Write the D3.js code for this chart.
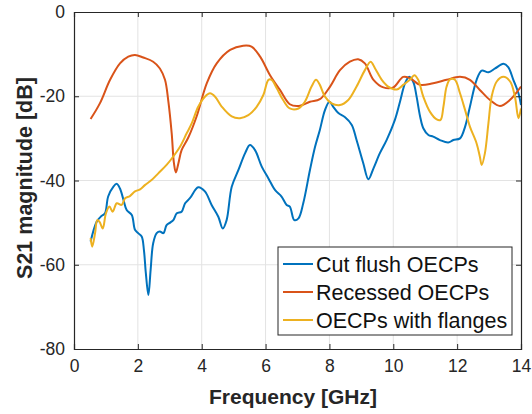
<!DOCTYPE html>
<html>
<head>
<meta charset="utf-8">
<script src="https://cdn.jsdelivr.net/npm/d3@7/dist/d3.min.js"></script>
<style>
  html, body { margin: 0; padding: 0; background: #fff; }
  svg { display: block; font-family: "Liberation Sans", Arial, Helvetica, sans-serif; }
</style>
</head>
<body>
<svg id="chart" width="532" height="414"></svg>
<script>
// Measured transmission |S21| for three OECP termination styles
const cutFlushFreq = [0.52,0.71,0.85,0.97,1.07,1.23,1.34,1.44,1.55,1.65,1.81,1.91,2.01,2.12,2.19,2.25,2.33,2.40,2.48,2.59,2.69,2.80,2.90,3.01,3.11,3.22,3.37,3.48,3.63,3.89,4.10,4.31,4.52,4.66,4.78,4.94,5.15,5.36,5.51,5.67,5.88,6.09,6.30,6.50,6.66,6.76,6.90,7.03,7.18,7.39,7.55,7.70,7.86,8.00,8.12,8.28,8.49,8.70,8.85,9.06,9.22,9.38,9.58,9.79,10.05,10.21,10.37,10.50,10.63,10.73,10.84,10.94,11.10,11.25,11.46,11.72,11.88,12.09,12.25,12.40,12.61,12.77,12.98,13.19,13.45,13.60,13.76,13.92,14.0];
const cutFlushDb = [-54.5,-49.8,-48.5,-47.8,-43.8,-41.5,-40.8,-41.9,-44.6,-47.0,-48.2,-51.7,-52.5,-53.3,-56.5,-62.0,-67.2,-61.2,-54.9,-52.5,-52.1,-52.5,-50.6,-50.0,-49.4,-47.8,-47.4,-45.4,-44.2,-41.6,-42.6,-45.8,-48.6,-51.4,-49.4,-41.5,-37.5,-33.5,-31.6,-32.8,-36.7,-39.5,-42.3,-43.8,-45.8,-46.2,-49.4,-49.0,-45.4,-37.5,-32.0,-28.0,-23.3,-21.3,-22.5,-24.0,-25.0,-26.8,-30.4,-35.9,-39.7,-37.1,-33.5,-30.4,-25.6,-21.3,-16.9,-15.4,-16.7,-20.1,-24.8,-27.6,-29.2,-29.6,-30.4,-31.0,-30.4,-30.0,-27.2,-22.5,-16.1,-13.9,-14.3,-13.4,-12.3,-13.1,-16.1,-19.3,-22.1];

const recessedFreq = [0.52,0.81,1.13,1.44,1.70,1.91,2.17,2.48,2.69,2.85,2.95,3.06,3.13,3.19,3.27,3.37,3.58,3.84,4.16,4.47,4.89,5.30,5.56,5.83,6.14,6.45,6.76,7.05,7.39,7.70,8.02,8.33,8.64,8.90,9.11,9.38,9.69,10.0,10.31,10.52,10.84,11.25,11.67,12.09,12.40,12.71,13.03,13.34,13.65,14.0];
const recessedDb = [-25.4,-21.7,-16.1,-12.2,-10.6,-10.2,-10.8,-11.8,-13.4,-16.1,-20.9,-28.8,-35.9,-38.1,-35.9,-32.8,-29.8,-24.8,-16.9,-12.2,-9.0,-8.0,-8.2,-10.6,-15.0,-18.5,-21.9,-22.3,-21.3,-20.7,-17.7,-13.8,-11.8,-11.2,-12.2,-16.1,-17.9,-17.9,-15.4,-15.7,-17.3,-16.9,-16.1,-15.4,-16.1,-18.5,-20.9,-22.3,-20.9,-17.7];

const flangeFreq = [0.52,0.57,0.66,0.73,0.80,0.90,1.00,1.11,1.21,1.34,1.49,1.60,1.75,1.91,2.07,2.22,2.43,2.64,2.90,3.11,3.32,3.53,3.69,3.89,4.10,4.26,4.42,4.63,4.94,5.20,5.46,5.72,5.93,6.09,6.19,6.35,6.55,6.76,7.03,7.23,7.44,7.58,7.70,7.86,8.07,8.33,8.59,8.85,9.11,9.29,9.43,9.64,9.84,10.11,10.31,10.52,10.66,10.78,10.94,11.15,11.36,11.48,11.57,11.67,11.78,11.93,12.09,12.25,12.40,12.61,12.71,12.77,12.87,12.98,13.08,13.24,13.45,13.66,13.81,13.92,14.0];
const flangeDb = [-53.7,-55.7,-52.5,-49.4,-49.8,-51.4,-47.8,-46.2,-47.4,-45.4,-45.8,-44.2,-43.7,-42.6,-42.1,-41.1,-39.9,-38.3,-36.3,-34.3,-32.0,-28.8,-26.4,-22.5,-20.1,-19.3,-20.1,-22.5,-24.8,-25.2,-24.5,-22.5,-19.7,-16.1,-16.1,-18.1,-20.9,-22.9,-22.9,-21.3,-17.7,-16.1,-17.3,-20.1,-21.7,-22.1,-20.9,-17.7,-13.8,-11.8,-13.4,-16.1,-17.7,-18.4,-17.3,-16.1,-15.0,-16.1,-20.1,-23.7,-25.5,-25.6,-22.5,-17.7,-16.0,-16.1,-19.3,-23.3,-27.2,-31.2,-34.3,-36.3,-33.5,-26.4,-20.1,-16.5,-15.4,-16.5,-20.1,-25.2,-22.9];

const seriesNames = ["Cut flush OECPs", "Recessed OECPs", "OECPs with flanges"];
const seriesColors = ["#0072BD", "#D95319", "#EDB120"];
const xTicks = [0, 2, 4, 6, 8, 10, 12, 14];
const yTicks = [-80, -60, -40, -20, 0];
const xLabel = "Frequency [GHz]";
const yLabel = "S21 magnitude [dB]";

const series = [
  { name: seriesNames[0], color: seriesColors[0], pts: cutFlushFreq.map((f, i) => [f, cutFlushDb[i]]) },
  { name: seriesNames[1], color: seriesColors[1], pts: recessedFreq.map((f, i) => [f, recessedDb[i]]) },
  { name: seriesNames[2], color: seriesColors[2], pts: flangeFreq.map((f, i) => [f, flangeDb[i]]) }
];

const svg = d3.select("#chart");
const plot = { left: 74, right: 521, top: 12, bottom: 349 };

const x = d3.scaleLinear().domain([0, 14]).range([plot.left, plot.right]);
const y = d3.scaleLinear().domain([-80, 0]).range([plot.bottom, plot.top]);

const axisColor = "#262626";
const gridColor = "#e3e3e3";

// grid
const grid = svg.append("g");
grid.selectAll("line.gx").data(xTicks.slice(1, -1)).enter().append("line")
  .attr("x1", d => x(d)).attr("x2", d => x(d))
  .attr("y1", plot.top).attr("y2", plot.bottom)
  .attr("stroke", gridColor).attr("stroke-width", 1);
grid.selectAll("line.gy").data(yTicks.slice(1, -1)).enter().append("line")
  .attr("y1", d => y(d)).attr("y2", d => y(d))
  .attr("x1", plot.left).attr("x2", plot.right)
  .attr("stroke", gridColor).attr("stroke-width", 1);

// curves
const line = d3.line()
  .x(d => x(d[0]))
  .y(d => y(d[1]))
  .curve(d3.curveCatmullRom.alpha(0.5));

svg.append("clipPath").attr("id", "plotclip").append("rect")
  .attr("x", plot.left).attr("y", plot.top)
  .attr("width", plot.right - plot.left).attr("height", plot.bottom - plot.top);

svg.append("g").attr("clip-path", "url(#plotclip)")
  .selectAll("path").data(series).enter().append("path")
  .attr("d", d => line(d.pts))
  .attr("fill", "none")
  .attr("stroke", d => d.color)
  .attr("stroke-width", 2)
  .attr("stroke-linejoin", "round");

// axes (ticks pointing inward, box on all sides)
const tickLen = 5;
const fontTick = 17.5;
const plainNum = d => String(d);
const xAxisB = d3.axisBottom(x).tickValues(xTicks).tickSize(-tickLen).tickPadding(11).tickFormat(plainNum);
const xAxisT = d3.axisTop(x).tickValues(xTicks).tickSize(-tickLen).tickFormat("");
const yAxisL = d3.axisLeft(y).tickValues(yTicks).tickSize(-tickLen).tickPadding(9).tickFormat(plainNum);
const yAxisR = d3.axisRight(y).tickValues(yTicks).tickSize(-tickLen).tickFormat("");

function styleAxis(g) {
  g.selectAll("path").attr("stroke", axisColor).attr("stroke-width", 1.2);
  g.selectAll("line").attr("stroke", axisColor);
  g.selectAll("text").attr("fill", axisColor)
    .style("font-size", fontTick + "px")
    .style("font-family", "'Liberation Sans', Arial, sans-serif");
}

svg.append("g").attr("transform", `translate(0,${plot.bottom})`).call(xAxisB).call(styleAxis);
svg.append("g").attr("transform", `translate(0,${plot.top})`).call(xAxisT).call(styleAxis);
svg.append("g").attr("transform", `translate(${plot.left},0)`).call(yAxisL).call(styleAxis);
svg.append("g").attr("transform", `translate(${plot.right},0)`).call(yAxisR).call(styleAxis);

// axis titles
svg.append("text")
  .attr("x", 293).attr("y", 404)
  .attr("text-anchor", "middle")
  .style("font-size", "21px").style("font-weight", "bold")
  .attr("fill", axisColor)
  .text(xLabel);

svg.append("text")
  .attr("transform", `translate(32,178) rotate(-90)`)
  .attr("text-anchor", "middle")
  .style("font-size", "21.5px").style("font-weight", "bold")
  .attr("fill", axisColor)
  .text(yLabel);

// legend
const lg = { x: 278, y: 247, w: 234, h: 88 };
const legend = svg.append("g");
legend.append("rect")
  .attr("x", lg.x).attr("y", lg.y).attr("width", lg.w).attr("height", lg.h)
  .attr("fill", "#fff").attr("stroke", axisColor).attr("stroke-width", 1);
const rows = legend.selectAll("g.row").data(series).enter().append("g")
  .attr("transform", (d, i) => `translate(0,${lg.y + 17 + i * 28})`);
rows.append("line")
  .attr("x1", lg.x + 5).attr("x2", lg.x + 35)
  .attr("y1", 0).attr("y2", 0)
  .attr("stroke", d => d.color).attr("stroke-width", 2);
rows.append("text")
  .attr("x", lg.x + 38).attr("y", 0).attr("dy", "0.35em")
  .style("font-size", "21.5px")
  .attr("fill", "#111")
  .text(d => d.name);
</script>
</body>
</html>
